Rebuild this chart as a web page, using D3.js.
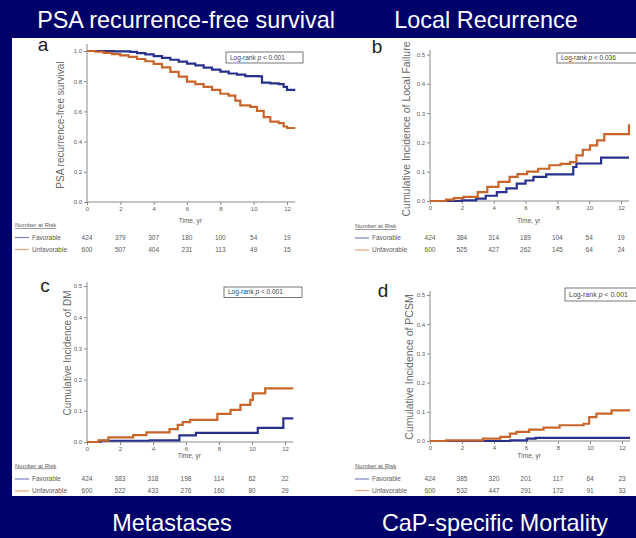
<!DOCTYPE html>
<html><head><meta charset="utf-8">
<script src="https://cdn.jsdelivr.net/npm/d3@7"></script>
<style>
body{margin:0;background:#01016a;}
svg{display:block;font-family:"Liberation Sans",Arial,sans-serif;}
</style>
</head><body>
<svg width="636" height="538"></svg>
<script>
// ---- data ----
const timeTicks = [0, 2, 4, 6, 8, 10, 12];
const groups = ["Favorable", "Unfavorable"];

// a: PSA recurrence-free survival (time yr, probability)
const psaFav = [[0,1],[1,1],[1.6,0.998],[2.6,0.994],[3,0.986],[3.5,0.977],[4,0.966],[4.5,0.955],[5,0.942],[5.5,0.93],[6,0.916],[6.5,0.905],[7,0.89],[7.5,0.876],[8,0.863],[8.5,0.851],[9,0.843],[9.5,0.833],[10.3,0.832],[10.5,0.79],[11,0.785],[11.5,0.78],[11.8,0.762],[12,0.742],[12.5,0.742]];
const psaUnf = [[0,1],[0.5,0.995],[1,0.987],[1.5,0.979],[2,0.971],[2.5,0.961],[3,0.947],[3.5,0.932],[4,0.915],[4.5,0.892],[5,0.862],[5.5,0.83],[6,0.797],[6.5,0.781],[7,0.762],[7.5,0.742],[8,0.717],[8.5,0.705],[8.9,0.672],[9.2,0.64],[9.8,0.63],[10.2,0.603],[10.6,0.562],[11,0.532],[11.5,0.522],[11.8,0.5],[12,0.49],[12.5,0.49]];

// b: cumulative incidence of local failure
const lfFav = [[0,0],[2,0.002],[2.9,0.008],[3.5,0.018],[4.2,0.03],[4.8,0.043],[5.45,0.059],[6,0.07],[6.5,0.082],[7.3,0.091],[8.8,0.091],[9,0.116],[9.2,0.128],[10.4,0.128],[10.75,0.148],[12.5,0.148]];
const lfUnf = [[0,0],[1,0.005],[1.5,0.01],[2.1,0.014],[3,0.03],[3.6,0.048],[4.3,0.065],[5,0.082],[5.5,0.092],[6.1,0.1],[6.8,0.11],[7.5,0.122],[8.2,0.127],[8.8,0.133],[9.2,0.156],[9.6,0.175],[10.05,0.19],[10.5,0.207],[10.95,0.228],[12.45,0.228],[12.5,0.262]];

// c: cumulative incidence of distant metastasis
const dmFav = [[0,0],[0.8,0.004],[3.8,0.005],[5.6,0.021],[6.6,0.029],[10.3,0.029],[10.35,0.045],[11.85,0.045],[11.9,0.076],[12.5,0.076]];
const dmUnf = [[0,0],[0.7,0.005],[1.3,0.015],[2.8,0.022],[3.6,0.031],[5,0.041],[5.5,0.055],[5.8,0.064],[6.25,0.071],[7.5,0.071],[7.9,0.09],[8.7,0.103],[9.3,0.119],[9.9,0.135],[10.05,0.156],[10.8,0.172],[12.5,0.172]];

// d: cumulative incidence of prostate cancer-specific mortality
const pcsmFav = [[0,0],[5,0.002],[6.05,0.008],[6.6,0.011],[12.5,0.011]];
const pcsmUnf = [[0,0],[1,0.002],[3.3,0.008],[4.4,0.014],[5,0.025],[5.4,0.031],[6.2,0.039],[7.1,0.046],[8.1,0.054],[9.6,0.059],[9.95,0.082],[10.4,0.094],[11.35,0.105],[12.5,0.105]];

// numbers at risk at each time tick
const riskA = [[424,379,307,180,100,54,19],[600,507,404,231,113,49,15]];
const riskB = [[424,384,314,189,104,54,19],[600,525,427,262,145,64,24]];
const riskC = [[424,383,318,198,114,62,22],[600,522,433,276,160,80,29]];
const riskD = [[424,385,320,201,117,64,23],[600,532,447,291,172,91,33]];

const pValues = ["0.001", "0.036", "0.001", "0.001"];
const panelTitles = ["PSA recurrence-free survival", "Local Recurrence", "Metastases", "CaP-specific Mortality"];
const yTitles = ["PSA recurrence-free survival", "Cumulative Incidence of Local Failure", "Cumulative Incidence of DM", "Cumulative Incidence of PCSM"];

// ---- layout ----
const colFav = "#27318c", colUnf = "#c7652a";
const legFav = "#7b80c0", legUnf = "#e3a57c";
const textCol = "#5a5a5a", axisCol = "#8a8a8a";

const panels = [
  {letter:"a", curves:[psaFav, psaUnf], risk:riskA, p:pValues[0], yMax:1.0, yTicks:d3.range(0,1.01,0.2),
   x0:87, x12:287, yZero:202, yTopPx:51, axisTop:44, letterX:43, letterY:51,
   box:{x:226,y:52,w:77,h:11}, yt:{x:61,y:125,s:10}, timeY:223, riskY:227, rowY:[239.5,251.5], legX:15,
   title:{x:186,y:28}},
  {letter:"b", curves:[lfFav, lfUnf], risk:riskB, p:pValues[1], yMax:0.5, yTicks:d3.range(0,0.51,0.1),
   x0:430, x12:621, yZero:201, yTopPx:54.5, axisTop:50, letterX:377, letterY:53,
   box:{x:557,y:53,w:90,h:10}, yt:{x:407,y:129,s:10.5}, timeY:223, riskY:228, rowY:[240,252], legX:355,
   title:{x:486,y:28}},
  {letter:"c", curves:[dmFav, dmUnf], risk:riskC, p:pValues[2], yMax:0.5, yTicks:d3.range(0,0.51,0.1),
   x0:87, x12:285, yZero:442, yTopPx:286, axisTop:282, letterX:45, letterY:292,
   box:{x:224,y:287,w:78,h:10.5}, yt:{x:68,y:353,s:10}, timeY:458, riskY:467.5, rowY:[481,493], legX:15,
   title:{x:172,y:531}},
  {letter:"d", curves:[pcsmFav, pcsmUnf], risk:riskD, p:pValues[3], yMax:0.5, yTicks:d3.range(0,0.51,0.1),
   x0:430, x12:622, yZero:441, yTopPx:295, axisTop:291, letterX:383, letterY:297,
   box:{x:565,y:288,w:75,h:13}, yt:{x:410,y:367,s:10.5}, timeY:458, riskY:467.5, rowY:[481,492.5], legX:355,
   title:{x:495,y:531}}
];

const svg = d3.select("svg");
svg.append("rect").attr("width",636).attr("height",538).attr("fill","#01016a");
svg.append("rect").attr("x",12).attr("y",38).attr("width",624).attr("height",458).attr("fill","#ffffff");

panels.forEach((P, i) => {
  const x = d3.scaleLinear().domain([0,12]).range([P.x0, P.x12]);
  const y = d3.scaleLinear().domain([0,P.yMax]).range([P.yZero, P.yTopPx]);
  const g = svg.append("g");

  // slide title
  svg.append("text").attr("x",P.title.x).attr("y",P.title.y).attr("text-anchor","middle")
    .attr("fill","#ffffff").attr("font-size",23.4).text(panelTitles[i]);

  // panel letter
  g.append("text").attr("x",P.letterX).attr("y",P.letterY).attr("text-anchor","middle")
    .attr("font-size",19).attr("fill","#222").text(P.letter);

  // y axis
  const yAxis = d3.axisLeft(y).tickValues(P.yTicks).tickFormat(d3.format(".1f")).tickSize(3).tickPadding(2);
  const ya = g.append("g").attr("transform",`translate(${P.x0},0)`).call(yAxis);
  ya.select(".domain").attr("d",`M0,${P.axisTop}V${P.yZero}`);
  // x axis
  const xAxis = d3.axisBottom(x).tickValues(timeTicks).tickFormat(d3.format("d")).tickSize(3).tickPadding(1.5);
  const xa = g.append("g").attr("transform",`translate(0,${P.yZero})`).call(xAxis);
  xa.select(".domain").attr("d",`M${P.x0},0H${x(12.5)}`);
  [ya, xa].forEach(a => {
    a.selectAll(".domain, .tick line").attr("stroke",axisCol).attr("stroke-width",1);
    a.selectAll(".tick text").attr("fill",textCol).attr("font-size",6).attr("font-family","Liberation Sans, Arial, sans-serif");
  });

  // y title
  g.append("text").attr("transform",`translate(${P.yt.x},${P.yt.y}) rotate(-90)`)
    .attr("text-anchor","middle").attr("dominant-baseline","middle")
    .attr("font-size",P.yt.s).attr("fill","#6a6a6a").text(yTitles[i]);

  // x title
  g.append("text").attr("x",x(6.2)).attr("y",P.timeY).attr("text-anchor","middle")
    .attr("font-size",6.5).attr("fill",textCol).text("Time, yr");

  // step curves
  const line = d3.line().x(d => x(d[0])).y(d => y(d[1])).curve(d3.curveStepAfter);
  [colFav, colUnf].forEach((c, k) => {
    g.append("path").datum(P.curves[k]).attr("d",line)
      .attr("fill","none").attr("stroke",c).attr("stroke-width",2.2);
  });

  // log-rank box
  g.append("rect").attr("x",P.box.x).attr("y",P.box.y).attr("width",P.box.w).attr("height",P.box.h)
    .attr("fill","#fff").attr("stroke","#555").attr("stroke-width",0.8);
  const lt = g.append("text").attr("x",P.box.x+4).attr("y",P.box.y+P.box.h/2)
    .attr("dominant-baseline","middle").attr("font-size",i===3?7:6.5).attr("fill","#444");
  lt.append("tspan").text("Log-rank ");
  lt.append("tspan").attr("font-style","italic").text("p");
  lt.append("tspan").text(" < " + P.p);

  // number at risk table
  g.append("text").attr("x",P.legX).attr("y",P.riskY).attr("font-size",6).attr("fill",textCol)
    .attr("text-decoration","underline").text("Number at Risk");
  [legFav, legUnf].forEach((c, k) => {
    const ry = P.rowY[k];
    g.append("line").attr("x1",P.legX).attr("x2",P.legX+14).attr("y1",ry-2).attr("y2",ry-2)
      .attr("stroke",c).attr("stroke-width",1.2);
    g.append("text").attr("x",P.legX+17).attr("y",ry).attr("font-size",6.5).attr("fill",textCol).text(groups[k]);
    g.selectAll(null).data(P.risk[k]).join("text")
      .attr("x",(d, j) => x(timeTicks[j])).attr("y",ry).attr("text-anchor","middle")
      .attr("font-size",6.5).attr("fill",textCol).text(d => d);
  });
});
</script>
</body></html>
